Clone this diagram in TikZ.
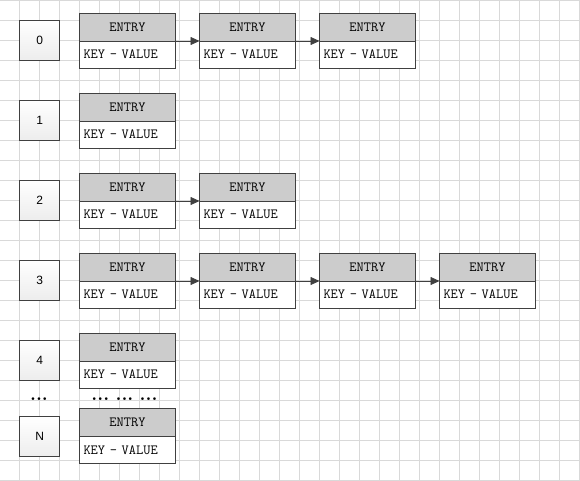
\documentclass[tikz,border=0pt]{standalone}
\usepackage{fontspec}
\newfontfamily\slotfont{Liberation Sans}
\usepackage{tikz}
\usetikzlibrary{arrows.meta,positioning}

\definecolor{gridgray}{HTML}{D9D9D9}
\definecolor{headgray}{HTML}{CCCCCC}
\definecolor{edgegray}{HTML}{404040}

\tikzset{
  gridline/.style={draw=gridgray, line width=0.8pt},
  slot/.style={draw=edgegray, line width=1pt, top color=white, bottom color=black!7,
    minimum width=40pt, minimum height=40pt, inner sep=0pt, outer sep=0pt,
    font=\slotfont\fontsize{12}{14}\selectfont},
  entryhead/.style={draw=edgegray, line width=0.9pt, fill=headgray,
    minimum width=96pt, minimum height=28pt, inner sep=0pt, outer sep=0pt,
    font=\ttfamily\fontsize{14}{16}\selectfont},
  entrybody/.style={draw=edgegray, line width=0.9pt, fill=white,
    text width=88pt, align=left, minimum height=27pt, inner xsep=4pt, inner ysep=0pt,
    outer sep=0pt, font=\ttfamily\fontsize{14}{16}\selectfont},
  link/.style={draw=edgegray, line width=0.8pt, -{Triangle[length=9pt,width=8pt]}},
  dots/.style={font=\bfseries\fontsize{19}{21}\selectfont, inner sep=0pt}
}

\begin{document}
\begin{tikzpicture}[x=1pt, y=-1pt]
\useasboundingbox (0,0) rectangle (580,480);
\fill[white] (0,0) rectangle (580,480);
\foreach \x in {19.5,39.5,...,579.5} \draw[gridline] (\x,0) -- (\x,480);
\foreach \y in {0,20,...,480} \draw[gridline] (0,\y) -- (580,\y);

% bucket slots
\node[slot] (s0) at (39.7,40) {0};
\node[slot] (s1) at (39.7,120) {1};
\node[slot] (s2) at (39.7,200) {2};
\node[slot] (s3) at (39.7,280) {3};
\node[slot] (s4) at (39.7,360) {4};
\node[slot] (sn) at (39.7,436.5) {N};

% row 0
\node[entryhead] (h0a) at (127.5,27) {ENTRY};
\node[entrybody, below=0pt of h0a] (k0a) {KEY - VALUE};
\node[entryhead, right=24pt of h0a] (h0b) {ENTRY};
\node[entrybody, below=0pt of h0b] (k0b) {KEY - VALUE};
\node[entryhead, right=24pt of h0b] (h0c) {ENTRY};
\node[entrybody, below=0pt of h0c] (k0c) {KEY - VALUE};
\draw[link] (h0a.south east) -- (h0b.south west);
\draw[link] (h0b.south east) -- (h0c.south west);

% row 1
\node[entryhead] (h1a) at (127.5,107) {ENTRY};
\node[entrybody, below=0pt of h1a] (k1a) {KEY - VALUE};

% row 2
\node[entryhead] (h2a) at (127.5,187) {ENTRY};
\node[entrybody, below=0pt of h2a] (k2a) {KEY - VALUE};
\node[entryhead, right=24pt of h2a] (h2b) {ENTRY};
\node[entrybody, below=0pt of h2b] (k2b) {KEY - VALUE};
\draw[link] (h2a.south east) -- (h2b.south west);

% row 3
\node[entryhead] (h3a) at (127.5,267) {ENTRY};
\node[entrybody, below=0pt of h3a] (k3a) {KEY - VALUE};
\node[entryhead, right=24pt of h3a] (h3b) {ENTRY};
\node[entrybody, below=0pt of h3b] (k3b) {KEY - VALUE};
\node[entryhead, right=24pt of h3b] (h3c) {ENTRY};
\node[entrybody, below=0pt of h3c] (k3c) {KEY - VALUE};
\node[entryhead, right=24pt of h3c] (h3d) {ENTRY};
\node[entrybody, below=0pt of h3d] (k3d) {KEY - VALUE};
\draw[link] (h3a.south east) -- (h3b.south west);
\draw[link] (h3b.south east) -- (h3c.south west);
\draw[link] (h3c.south east) -- (h3d.south west);

% row 4 and N
\node[entryhead] (h4a) at (127.5,347) {ENTRY};
\node[entrybody, below=0pt of h4a] (k4a) {KEY - VALUE};
\node[entryhead] (hna) at (127.5,422.5) {ENTRY};
\node[entrybody, below=0pt of hna] (kna) {KEY - VALUE};

\node[dots] (ds) at (39,399.5) {...};
\node[dots] (de) at (124.5,399.5) {...\hspace{6.3pt}...\hspace{6.3pt}...};
\end{tikzpicture}
\end{document}
